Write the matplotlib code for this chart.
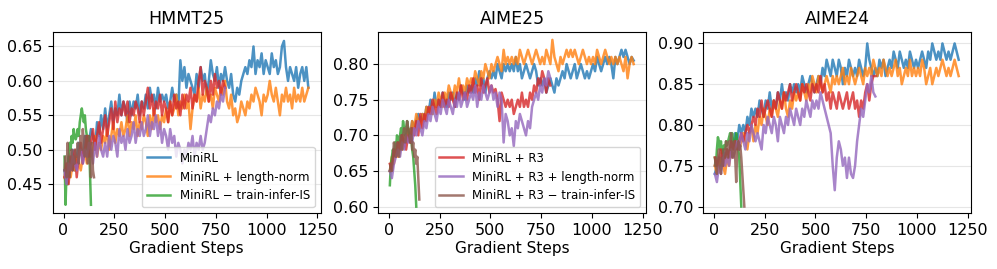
import numpy as np
import matplotlib
matplotlib.use("Agg")
import matplotlib.pyplot as plt

# ---------------- data ----------------
steps_long = np.arange(5, 1206, 10)   # MiniRL, MiniRL + length-norm
steps_mid = np.arange(5, 796, 10)     # MiniRL + R3, MiniRL + R3 + length-norm
steps_g = np.arange(5, 136, 5)        # MiniRL - train-infer-IS
steps_b = np.arange(5, 151, 5)        # MiniRL + R3 - train-infer-IS

titles = ["HMMT25", "AIME25", "AIME24"]
labels = ["MiniRL", "MiniRL + length-norm", "MiniRL \u2212 train-infer-IS",
          "MiniRL + R3", "MiniRL + R3 + length-norm", "MiniRL + R3 \u2212 train-infer-IS"]
colors = ["#1f77b4", "#ff7f0e", "#2ca02c", "#d62728", "#9467bd", "#8c564b"]

# HMMT25
hmmt_minirl = [0.47, 0.46, 0.49, 0.48, 0.50, 0.47, 0.49, 0.51, 0.50, 0.49,
               0.52, 0.50, 0.51, 0.53, 0.52, 0.50, 0.54, 0.52, 0.55, 0.53,
               0.56, 0.53, 0.55, 0.57, 0.54, 0.56, 0.55, 0.58, 0.55, 0.57,
               0.56, 0.54, 0.57, 0.55, 0.57, 0.56, 0.58, 0.55, 0.57, 0.56,
               0.58, 0.56, 0.59, 0.57, 0.58, 0.56, 0.59, 0.57, 0.58, 0.57,
               0.58, 0.56, 0.57, 0.59, 0.57, 0.58, 0.56, 0.63, 0.60, 0.62,
               0.59, 0.61, 0.60, 0.59, 0.58, 0.61, 0.59, 0.62, 0.60, 0.61,
               0.58, 0.60, 0.63, 0.61, 0.60, 0.62, 0.59, 0.61, 0.60, 0.62,
               0.60, 0.59, 0.61, 0.58, 0.57, 0.59, 0.58, 0.60, 0.61, 0.62,
               0.61, 0.63, 0.62, 0.65, 0.61, 0.63, 0.62, 0.64, 0.61, 0.63,
               0.62, 0.61, 0.64, 0.62, 0.63, 0.61, 0.62, 0.65, 0.658, 0.62,
               0.60, 0.62, 0.61, 0.60, 0.62, 0.59, 0.61, 0.62, 0.60, 0.62, 0.59]
hmmt_lennorm = [0.46, 0.45, 0.47, 0.46, 0.48, 0.47, 0.49, 0.48, 0.47, 0.49,
                0.50, 0.48, 0.51, 0.49, 0.50, 0.52, 0.49, 0.51, 0.50, 0.52,
                0.51, 0.53, 0.50, 0.52, 0.54, 0.51, 0.53, 0.52, 0.54, 0.52,
                0.53, 0.55, 0.52, 0.54, 0.53, 0.55, 0.52, 0.54, 0.53, 0.55,
                0.54, 0.52, 0.55, 0.53, 0.56, 0.54, 0.55, 0.53, 0.55, 0.54,
                0.56, 0.54, 0.57, 0.55, 0.56, 0.58, 0.55, 0.57, 0.56, 0.58,
                0.56, 0.57, 0.53, 0.56, 0.58, 0.57, 0.59, 0.56, 0.58, 0.57,
                0.59, 0.57, 0.58, 0.56, 0.59, 0.58, 0.57, 0.59, 0.58, 0.60,
                0.57, 0.56, 0.58, 0.55, 0.56, 0.54, 0.55, 0.57, 0.56, 0.55,
                0.57, 0.56, 0.58, 0.57, 0.59, 0.58, 0.57, 0.55, 0.58, 0.57,
                0.58, 0.60, 0.58, 0.57, 0.59, 0.57, 0.55, 0.58, 0.57, 0.59,
                0.57, 0.58, 0.56, 0.59, 0.57, 0.58, 0.57, 0.59, 0.57, 0.58, 0.59]
hmmt_noIS = [0.49, 0.42, 0.47, 0.45, 0.49, 0.51, 0.50, 0.52, 0.51, 0.53, 0.52, 0.515, 0.52, 0.53,
             0.52, 0.54, 0.55, 0.56, 0.55, 0.54, 0.55, 0.53, 0.52, 0.50, 0.52, 0.47, 0.42]
hmmt_r3 = [0.46, 0.48, 0.45, 0.49, 0.47, 0.50, 0.46, 0.49, 0.51, 0.48,
           0.50, 0.52, 0.49, 0.51, 0.53, 0.50, 0.52, 0.54, 0.51, 0.53,
           0.55, 0.52, 0.54, 0.56, 0.53, 0.57, 0.54, 0.56, 0.55, 0.57,
           0.55, 0.57, 0.54, 0.56, 0.55, 0.57, 0.56, 0.54, 0.57, 0.55,
           0.57, 0.59, 0.56, 0.58, 0.55, 0.57, 0.56, 0.58, 0.55, 0.57,
           0.56, 0.54, 0.57, 0.55, 0.58, 0.56, 0.57, 0.55, 0.58, 0.56,
           0.58, 0.57, 0.59, 0.56, 0.58, 0.57, 0.60, 0.62, 0.58, 0.60,
           0.59, 0.57, 0.60, 0.58, 0.61, 0.59, 0.60, 0.58, 0.60, 0.59]
hmmt_r3_lennorm = [0.47, 0.45, 0.48, 0.47, 0.49, 0.48, 0.47, 0.49, 0.50, 0.48,
                   0.50, 0.49, 0.51, 0.50, 0.48, 0.51, 0.49, 0.52, 0.50, 0.49,
                   0.51, 0.49, 0.52, 0.50, 0.52, 0.51, 0.49, 0.53, 0.51, 0.52,
                   0.50, 0.53, 0.51, 0.52, 0.54, 0.51, 0.53, 0.52, 0.54, 0.52,
                   0.53, 0.55, 0.52, 0.54, 0.53, 0.55, 0.52, 0.54, 0.51, 0.53,
                   0.52, 0.50, 0.53, 0.51, 0.52, 0.49, 0.51, 0.50, 0.48, 0.50,
                   0.49, 0.51, 0.50, 0.52, 0.49, 0.51, 0.50, 0.52, 0.50, 0.51,
                   0.53, 0.55, 0.54, 0.56, 0.55, 0.57, 0.56, 0.58, 0.57, 0.59]
hmmt_r3_noIS = [0.47, 0.49, 0.46, 0.51, 0.48, 0.46, 0.49, 0.50, 0.47, 0.49,
                0.48, 0.50, 0.49, 0.51, 0.48, 0.50, 0.52, 0.50, 0.53, 0.51,
                0.49, 0.52, 0.50, 0.48, 0.52, 0.50, 0.46, 0.51, 0.47, 0.46]

# AIME25
aime25_minirl = [0.65, 0.66, 0.68, 0.67, 0.69, 0.68, 0.70, 0.69, 0.70, 0.71,
                 0.70, 0.72, 0.71, 0.72, 0.73, 0.72, 0.73, 0.72, 0.74, 0.73,
                 0.75, 0.73, 0.76, 0.74, 0.75, 0.74, 0.76, 0.75, 0.74, 0.76,
                 0.75, 0.76, 0.74, 0.76, 0.75, 0.77, 0.76, 0.75, 0.77, 0.76,
                 0.77, 0.76, 0.78, 0.77, 0.79, 0.77, 0.78, 0.76, 0.78, 0.79,
                 0.78, 0.79, 0.78, 0.80, 0.79, 0.78, 0.80, 0.79, 0.80, 0.79,
                 0.80, 0.79, 0.81, 0.79, 0.80, 0.78, 0.79, 0.80, 0.79, 0.78,
                 0.79, 0.80, 0.79, 0.77, 0.78, 0.77, 0.78, 0.76, 0.77, 0.78,
                 0.77, 0.76, 0.78, 0.77, 0.78, 0.79, 0.78, 0.80, 0.79, 0.78,
                 0.79, 0.80, 0.78, 0.79, 0.80, 0.79, 0.78, 0.79, 0.78, 0.79,
                 0.80, 0.79, 0.81, 0.80, 0.79, 0.80, 0.81, 0.80, 0.81, 0.80,
                 0.78, 0.81, 0.80, 0.81, 0.82, 0.81, 0.82, 0.81, 0.80, 0.81, 0.805]
aime25_lennorm = [0.65, 0.67, 0.66, 0.68, 0.67, 0.69, 0.68, 0.70, 0.69, 0.71,
                  0.70, 0.72, 0.71, 0.73, 0.72, 0.71, 0.73, 0.72, 0.74, 0.73,
                  0.74, 0.73, 0.75, 0.74, 0.76, 0.75, 0.74, 0.76, 0.75, 0.77,
                  0.76, 0.75, 0.77, 0.76, 0.78, 0.76, 0.77, 0.76, 0.78, 0.77,
                  0.78, 0.77, 0.79, 0.78, 0.77, 0.79, 0.78, 0.80, 0.79, 0.78,
                  0.80, 0.79, 0.80, 0.81, 0.80, 0.79, 0.82, 0.80, 0.81, 0.80,
                  0.81, 0.80, 0.81, 0.80, 0.82, 0.81, 0.80, 0.81, 0.82, 0.81,
                  0.80, 0.81, 0.82, 0.81, 0.80, 0.81, 0.80, 0.82, 0.81, 0.80,
                  0.834, 0.81, 0.80, 0.79, 0.81, 0.80, 0.81, 0.82, 0.81, 0.82,
                  0.81, 0.82, 0.81, 0.80, 0.81, 0.82, 0.81, 0.80, 0.81, 0.80,
                  0.81, 0.80, 0.82, 0.81, 0.80, 0.81, 0.82, 0.81, 0.80, 0.81,
                  0.80, 0.81, 0.80, 0.81, 0.80, 0.79, 0.81, 0.78, 0.80, 0.81, 0.80]
aime25_noIS = [0.63, 0.66, 0.67, 0.68, 0.67, 0.69, 0.68, 0.70, 0.695, 0.69, 0.70, 0.71, 0.70, 0.72,
               0.71, 0.70, 0.71, 0.72, 0.71, 0.70, 0.69, 0.70, 0.68, 0.67, 0.65, 0.63, 0.60]
aime25_r3 = [0.66, 0.65, 0.68, 0.67, 0.69, 0.68, 0.70, 0.69, 0.68, 0.70,
             0.69, 0.71, 0.70, 0.72, 0.70, 0.73, 0.71, 0.73, 0.72, 0.74,
             0.73, 0.75, 0.74, 0.73, 0.75, 0.74, 0.76, 0.74, 0.75, 0.74,
             0.76, 0.75, 0.74, 0.76, 0.75, 0.77, 0.75, 0.76, 0.75, 0.77,
             0.76, 0.78, 0.76, 0.77, 0.75, 0.78, 0.76, 0.77, 0.78, 0.76,
             0.77, 0.76, 0.765, 0.75, 0.72, 0.76, 0.75, 0.74, 0.75, 0.74,
             0.75, 0.73, 0.74, 0.75, 0.74, 0.76, 0.74, 0.75, 0.74, 0.76,
             0.75, 0.77, 0.76, 0.78, 0.77, 0.79, 0.78, 0.76, 0.78, 0.77]
aime25_r3_lennorm = [0.65, 0.64, 0.66, 0.67, 0.68, 0.67, 0.69, 0.68, 0.70, 0.69,
                     0.70, 0.69, 0.71, 0.70, 0.72, 0.71, 0.70, 0.72, 0.71, 0.73,
                     0.72, 0.74, 0.73, 0.72, 0.74, 0.73, 0.75, 0.74, 0.73, 0.75,
                     0.74, 0.73, 0.75, 0.74, 0.76, 0.74, 0.75, 0.76, 0.74, 0.75,
                     0.76, 0.75, 0.77, 0.74, 0.76, 0.75, 0.77, 0.76, 0.75, 0.76,
                     0.77, 0.75, 0.76, 0.74, 0.76, 0.75, 0.69, 0.73, 0.72, 0.70,
                     0.71, 0.685, 0.72, 0.71, 0.73, 0.72, 0.71, 0.70, 0.72, 0.71,
                     0.74, 0.75, 0.76, 0.75, 0.77, 0.76, 0.78, 0.77, 0.79, 0.78]
aime25_r3_noIS = [0.65, 0.66, 0.65, 0.67, 0.69, 0.68, 0.67, 0.69, 0.68, 0.67,
                  0.69, 0.70, 0.68, 0.70, 0.71, 0.69, 0.70, 0.72, 0.71, 0.70,
                  0.69, 0.71, 0.68, 0.69, 0.67, 0.68, 0.66, 0.67, 0.64, 0.61]

# AIME24
aime24_minirl = [0.74, 0.75, 0.76, 0.75, 0.77, 0.76, 0.77, 0.76, 0.78, 0.77,
                 0.79, 0.78, 0.80, 0.79, 0.80, 0.79, 0.81, 0.80, 0.82, 0.81,
                 0.82, 0.81, 0.83, 0.82, 0.81, 0.83, 0.82, 0.84, 0.82, 0.83,
                 0.82, 0.84, 0.83, 0.85, 0.83, 0.84, 0.83, 0.85, 0.84, 0.85,
                 0.84, 0.85, 0.84, 0.86, 0.85, 0.84, 0.85, 0.86, 0.85, 0.84,
                 0.85, 0.86, 0.85, 0.87, 0.86, 0.88, 0.87, 0.86, 0.88, 0.87,
                 0.86, 0.88, 0.87, 0.85, 0.87, 0.86, 0.88, 0.87, 0.86, 0.87,
                 0.86, 0.88, 0.87, 0.86, 0.87, 0.90, 0.88, 0.87, 0.86, 0.87,
                 0.86, 0.88, 0.87, 0.88, 0.86, 0.87, 0.88, 0.87, 0.89, 0.88,
                 0.87, 0.89, 0.88, 0.87, 0.88, 0.87, 0.89, 0.88, 0.87, 0.88,
                 0.87, 0.88, 0.89, 0.88, 0.87, 0.89, 0.88, 0.90, 0.89, 0.88,
                 0.89, 0.88, 0.90, 0.89, 0.88, 0.89, 0.88, 0.89, 0.90, 0.89, 0.88]
aime24_lennorm = [0.75, 0.74, 0.75, 0.76, 0.75, 0.74, 0.76, 0.75, 0.77, 0.76,
                  0.77, 0.78, 0.77, 0.78, 0.79, 0.78, 0.77, 0.79, 0.80, 0.78,
                  0.80, 0.79, 0.81, 0.80, 0.82, 0.81, 0.80, 0.82, 0.81, 0.83,
                  0.82, 0.81, 0.83, 0.82, 0.84, 0.82, 0.81, 0.83, 0.82, 0.84,
                  0.83, 0.84, 0.83, 0.85, 0.84, 0.83, 0.85, 0.84, 0.86, 0.85,
                  0.84, 0.86, 0.85, 0.84, 0.85, 0.86, 0.85, 0.84, 0.86, 0.85,
                  0.86, 0.85, 0.86, 0.87, 0.85, 0.86, 0.85, 0.87, 0.86, 0.85,
                  0.86, 0.87, 0.86, 0.85, 0.87, 0.86, 0.87, 0.86, 0.88, 0.87,
                  0.86, 0.87, 0.86, 0.88, 0.87, 0.86, 0.87, 0.86, 0.87, 0.88,
                  0.86, 0.87, 0.85, 0.86, 0.87, 0.86, 0.88, 0.86, 0.87, 0.86,
                  0.87, 0.86, 0.88, 0.87, 0.85, 0.86, 0.87, 0.85, 0.86, 0.87,
                  0.86, 0.87, 0.88, 0.87, 0.86, 0.87, 0.86, 0.87, 0.88, 0.87, 0.86]
aime24_noIS = [0.76, 0.75, 0.77, 0.785, 0.78, 0.77, 0.78, 0.765, 0.77, 0.775, 0.77, 0.78, 0.775, 0.78,
               0.785, 0.79, 0.78, 0.79, 0.78, 0.775, 0.78, 0.79, 0.78, 0.77, 0.76, 0.73, 0.70]
aime24_r3 = [0.76, 0.75, 0.76, 0.77, 0.75, 0.76, 0.77, 0.76, 0.78, 0.77,
             0.78, 0.77, 0.78, 0.79, 0.78, 0.79, 0.80, 0.79, 0.80, 0.81,
             0.80, 0.82, 0.81, 0.83, 0.81, 0.82, 0.83, 0.82, 0.81, 0.83,
             0.82, 0.84, 0.83, 0.82, 0.84, 0.83, 0.84, 0.85, 0.83, 0.84,
             0.85, 0.84, 0.83, 0.85, 0.84, 0.85, 0.84, 0.83, 0.85, 0.84,
             0.85, 0.84, 0.86, 0.84, 0.85, 0.83, 0.84, 0.82, 0.84, 0.83,
             0.82, 0.84, 0.83, 0.82, 0.83, 0.84, 0.82, 0.83, 0.84, 0.82,
             0.83, 0.81, 0.83, 0.82, 0.84, 0.85, 0.83, 0.85, 0.86, 0.86]
aime24_r3_lennorm = [0.74, 0.73, 0.75, 0.74, 0.76, 0.75, 0.76, 0.75, 0.77, 0.76,
                     0.77, 0.78, 0.77, 0.79, 0.78, 0.77, 0.79, 0.78, 0.80, 0.79,
                     0.78, 0.79, 0.78, 0.77, 0.80, 0.79, 0.81, 0.80, 0.79, 0.81,
                     0.80, 0.78, 0.81, 0.80, 0.79, 0.81, 0.80, 0.82, 0.81, 0.80,
                     0.82, 0.81, 0.80, 0.82, 0.81, 0.83, 0.82, 0.81, 0.83, 0.82,
                     0.83, 0.82, 0.84, 0.83, 0.82, 0.81, 0.80, 0.79, 0.75, 0.72,
                     0.76, 0.78, 0.77, 0.75, 0.76, 0.735, 0.76, 0.74, 0.735, 0.75,
                     0.78, 0.80, 0.82, 0.81, 0.83, 0.85, 0.84, 0.86, 0.84, 0.835]
aime24_r3_noIS = [0.75, 0.76, 0.74, 0.76, 0.77, 0.75, 0.74, 0.76, 0.75, 0.77,
                  0.76, 0.78, 0.77, 0.76, 0.78, 0.77, 0.79, 0.76, 0.77, 0.78,
                  0.76, 0.73, 0.77, 0.78, 0.77, 0.775, 0.76, 0.74, 0.72, 0.70]

panels = [
    [hmmt_minirl, hmmt_lennorm, hmmt_noIS, hmmt_r3, hmmt_r3_lennorm, hmmt_r3_noIS],
    [aime25_minirl, aime25_lennorm, aime25_noIS, aime25_r3, aime25_r3_lennorm, aime25_r3_noIS],
    [aime24_minirl, aime24_lennorm, aime24_noIS, aime24_r3, aime24_r3_lennorm, aime24_r3_noIS],
]
series_steps = [steps_long, steps_long, steps_g, steps_mid, steps_mid, steps_b]
ylims = [(0.408, 0.671), (0.591, 0.845), (0.692, 0.914)]
yticks = [[0.45, 0.50, 0.55, 0.60, 0.65],
          [0.60, 0.65, 0.70, 0.75, 0.80],
          [0.70, 0.75, 0.80, 0.85, 0.90]]

# ---------------- plot ----------------
plt.rcParams['font.family'] = ['DejaVu Sans']
fig = plt.figure(figsize=(9.97, 2.69), dpi=100)
lefts = [0.0527, 0.379, 0.705]
axes = [fig.add_axes([l, 0.208, 0.269, 0.673]) for l in lefts]

for ax, title, data, yl, yt in zip(axes, titles, panels, ylims, yticks):
    lines = []
    for x, y, c, lab in zip(series_steps, data, colors, labels):
        ln, = ax.plot(x, y, color=c, lw=1.8, alpha=0.8, label=lab)
        lines.append(ln)
    ax.set_title(title, fontsize=12.5)
    ax.set_xlabel("Gradient Steps", fontsize=11, labelpad=2)
    ax.set_xlim(-54, 1266)
    ax.set_ylim(*yl)
    ax.set_xticks([0, 250, 500, 750, 1000, 1250])
    ax.set_yticks(yt)
    ax.set_yticklabels([f"{v:.2f}" for v in yt])
    ax.tick_params(labelsize=11.5)
    ax.grid(axis='y', color='#e6e6e6', lw=0.8)
    ax.set_axisbelow(True)
    ax.panel_lines = lines

axes[0].legend(handles=axes[0].panel_lines[:3], loc='lower right', fontsize=8.5)
axes[1].legend(handles=axes[1].panel_lines[3:], loc='lower right', fontsize=8.5)

fig.savefig("out.png", dpi=100)
